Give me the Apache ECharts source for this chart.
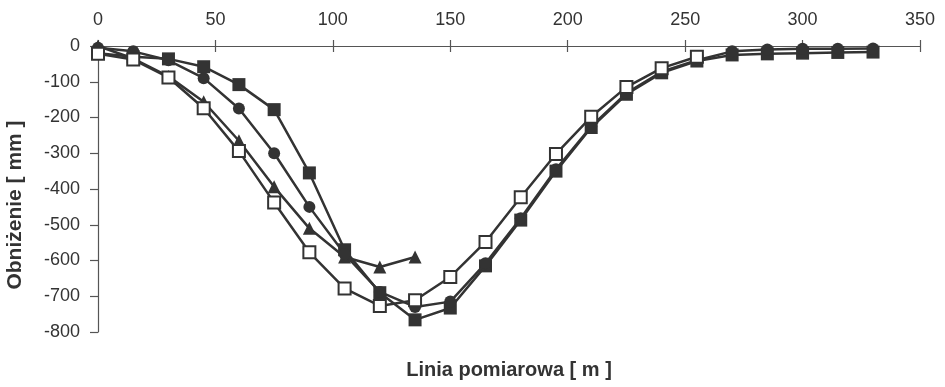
<!DOCTYPE html>
<html>
<head>
<meta charset="utf-8">
<script src="https://cdn.jsdelivr.net/npm/echarts@6/dist/echarts.min.js"></script>
<style>
  html, body { margin: 0; padding: 0; background: #ffffff; }
  #chart { width: 945px; height: 387px; }
</style>
</head>
<body>
<div id="chart"></div>
<script>
// Measuring stations along the line [m]
const stations = [0, 15, 30, 45, 60, 75, 90, 105, 120, 135, 150, 165, 180, 195, 210, 225, 240, 255, 270, 285, 300, 315, 330];

// Subsidence [mm] per measurement series
const filledSquare = [-20, -30, -36, -58, -108, -178, -355, -570, -690, -766, -733, -615, -487, -350, -228, -135, -75, -42, -25, -22, -20, -18, -17];
const filledCircle = [-5, -15, -40, -90, -175, -300, -450, -582, -688, -730, -715, -608, -482, -345, -225, -132, -72, -40, -15, -10, -8, -8, -7];
const filledTriangle = [0, -35, -85, -156, -265, -394, -510, -590, -618, -590];
const openSquare = [-22, -38, -88, -174, -294, -438, -577, -678, -727, -711, -646, -548, -423, -302, -198, -115, -62, -30];

const xTicks = { min: 0, max: 350, step: 50 };
const yTicks = { min: -800, max: 0, step: 100 };

const ink = '#333333';
const font = 'Liberation Sans, Arial, sans-serif';

function pairs(values) {
  return values.map((v, i) => [stations[i], v]);
}

const chart = echarts.init(document.getElementById('chart'), null, { renderer: 'canvas' });

const baseX = {
  type: 'value',
  position: 'top',
  min: xTicks.min,
  max: xTicks.max,
  interval: xTicks.step,
  splitLine: { show: false }
};
const baseY = {
  type: 'value',
  min: yTicks.min,
  max: yTicks.max,
  interval: yTicks.step,
  splitLine: { show: false }
};

function lineSeries(name, values, symbol, size, fill, z) {
  return {
    name: name,
    type: 'line',
    data: pairs(values),
    symbol: symbol,
    symbolSize: size,
    showAllSymbol: true,
    z: z,
    lineStyle: { color: ink, width: 2.5 },
    itemStyle: { color: fill, borderColor: ink, borderWidth: fill === ink ? 0 : 2 },
    emphasis: { disabled: true },
    animation: false
  };
}

chart.setOption({
  backgroundColor: '#ffffff',
  animation: false,
  grid: { left: 98, right: 25, top: 46, bottom: 55 },
  xAxis: [
    Object.assign({}, baseX, {
      axisLine: { show: true, onZero: false, lineStyle: { color: '#555', width: 1.2 } },
      axisTick: { show: true, length: 6, lineStyle: { color: '#555', width: 1.2 } },
      axisLabel: { color: ink, fontSize: 18, fontFamily: font, margin: 17 }
    }),
    Object.assign({}, baseX, {
      axisLine: { show: false },
      axisTick: { show: true, inside: true, length: 6, lineStyle: { color: '#555', width: 1.2 } },
      axisLabel: { show: false }
    })
  ],
  yAxis: [
    Object.assign({}, baseY, {
      axisLine: { show: true, onZero: false, lineStyle: { color: '#555', width: 1.2 } },
      axisTick: { show: true, length: 8, lineStyle: { color: '#555', width: 1.2 } },
      axisLabel: { color: ink, fontSize: 18, fontFamily: font, margin: 18 }
    }),
    Object.assign({}, baseY, {
      position: 'left',
      axisLine: { show: false },
      axisTick: { show: false },
      axisLabel: { show: false }
    })
  ],
  graphic: [
    {
      type: 'text',
      x: 509, y: 370,
      style: {
        text: 'Linia pomiarowa [ m ]',
        fill: ink, font: 'bold 20px ' + font,
        textAlign: 'center', textVerticalAlign: 'middle'
      }
    },
    {
      type: 'text',
      x: 15, y: 205,
      rotation: Math.PI / 2,
      style: {
        text: 'Obniżenie [ mm ]',
        fill: ink, font: 'bold 21px ' + font,
        textAlign: 'center', textVerticalAlign: 'middle'
      }
    }
  ],
  series: [
    lineSeries('trojkaty', filledTriangle, 'triangle', 13, ink, 2),
    lineSeries('kwadraty', filledSquare, 'rect', 13, ink, 3),
    lineSeries('kola', filledCircle, 'circle', 12, ink, 4),
    lineSeries('kwadraty puste', openSquare, 'rect', 12, '#ffffff', 5)
  ]
});
</script>
</body>
</html>
